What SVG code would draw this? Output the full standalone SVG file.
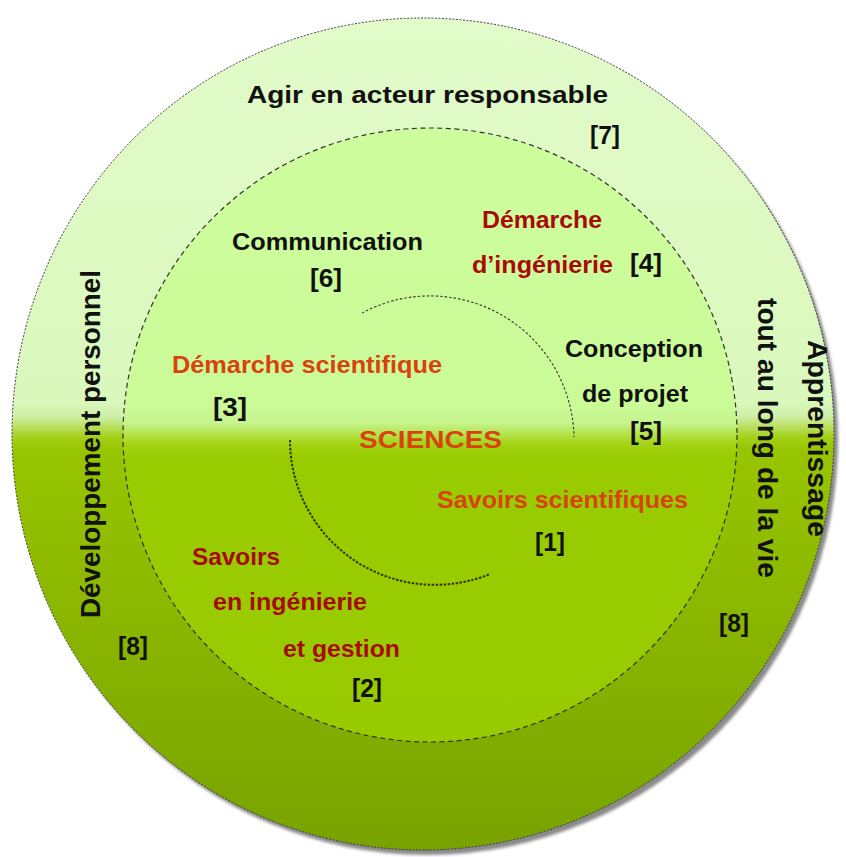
<svg xmlns="http://www.w3.org/2000/svg" width="846" height="857" viewBox="0 0 846 857">
  <defs>
    <linearGradient id="gOuter" gradientUnits="userSpaceOnUse" x1="0" y1="18" x2="0" y2="850">
      <stop offset="0" stop-color="#e2fbca"/>
      <stop offset="0.46" stop-color="#daf8bc"/>
      <stop offset="0.478" stop-color="#d0f0aa"/>
      <stop offset="0.505" stop-color="#a2cf14"/>
      <stop offset="0.52" stop-color="#97c500"/>
      <stop offset="1" stop-color="#78a200"/>
    </linearGradient>
    <linearGradient id="gInner" gradientUnits="userSpaceOnUse" x1="0" y1="128" x2="0" y2="742">
      <stop offset="0" stop-color="#cefd9e"/>
      <stop offset="0.455" stop-color="#cafb97"/>
      <stop offset="0.48" stop-color="#c6f48e"/>
      <stop offset="0.515" stop-color="#a4d414"/>
      <stop offset="0.535" stop-color="#99cc00"/>
      <stop offset="1" stop-color="#98ca00"/>
    </linearGradient>
    <filter id="blur" x="-5%" y="-5%" width="110%" height="110%">
      <feGaussianBlur stdDeviation="1.5"/>
    </filter>
  </defs>
  <style>
    text { font-family: "Liberation Sans", Arial, sans-serif; font-weight: bold; }
    .k { fill: #111111; font-size: 24px; }
    .b { fill: #111111; font-size: 25px; }
    .dr { fill: #a80a0a; font-size: 24px; }
    .or { fill: #d9420f; font-size: 24px; }
    .ring { fill: #111111; font-size: 28px; }
  </style>

  <g id="background">
    <ellipse cx="427" cy="439" rx="411" ry="416" fill="#8a8a8a" filter="url(#blur)"/>
    <ellipse id="outer-ring" cx="423" cy="434" rx="411" ry="416" fill="url(#gOuter)" stroke="#3a3a3a" stroke-width="1" stroke-dasharray="2 1.5"/>
    <circle id="inner-circle" cx="430" cy="435" r="307" fill="url(#gInner)" stroke="#333333" stroke-width="1.2" stroke-dasharray="5 3.5"/>
  </g>

  <g id="connectors" fill="none">
    <path d="M 362 313 A 144 144 0 0 1 574 437" stroke="#333333" stroke-width="1.1" stroke-dasharray="2.5 2"/>
    <path d="M 290 440 A 145 145 0 0 0 490 574" stroke="#2e3a00" stroke-width="2" stroke-dasharray="2.5 1.5"/>
  </g>

  <g id="node-7">
    <text class="k" x="247" y="103" textLength="361" lengthAdjust="spacingAndGlyphs">Agir en acteur responsable</text>
    <text class="b" x="590" y="144" textLength="30" lengthAdjust="spacingAndGlyphs">[7]</text>
  </g>

  <g id="node-8-left">
    <text class="ring" transform="translate(100,444) rotate(-90)" text-anchor="middle" textLength="348" lengthAdjust="spacingAndGlyphs">Développement personnel</text>
    <text class="b" x="118" y="655" textLength="30" lengthAdjust="spacingAndGlyphs">[8]</text>
  </g>

  <g id="node-8-right">
    <text class="ring" transform="translate(758,438) rotate(90)" text-anchor="middle" textLength="280" lengthAdjust="spacingAndGlyphs">tout au long de la vie</text>
    <text class="ring" transform="translate(808,438.5) rotate(90)" text-anchor="middle" textLength="197" lengthAdjust="spacingAndGlyphs">Apprentissage</text>
    <text class="b" x="719" y="632" textLength="30" lengthAdjust="spacingAndGlyphs">[8]</text>
  </g>

  <g id="node-6">
    <text class="k" x="232" y="250" textLength="191" lengthAdjust="spacingAndGlyphs">Communication</text>
    <text class="b" x="310" y="287" textLength="32" lengthAdjust="spacingAndGlyphs">[6]</text>
  </g>

  <g id="node-4">
    <text class="dr" x="482" y="228" textLength="120" lengthAdjust="spacingAndGlyphs">Démarche</text>
    <text class="dr" x="472" y="273" textLength="141" lengthAdjust="spacingAndGlyphs">d’ingénierie</text>
    <text class="b" x="630" y="272" textLength="32" lengthAdjust="spacingAndGlyphs">[4]</text>
  </g>

  <g id="node-5">
    <text class="k" x="565" y="357" textLength="138" lengthAdjust="spacingAndGlyphs">Conception</text>
    <text class="k" x="582" y="402" textLength="106" lengthAdjust="spacingAndGlyphs">de projet</text>
    <text class="b" x="630" y="440" textLength="32" lengthAdjust="spacingAndGlyphs">[5]</text>
  </g>

  <g id="node-3">
    <text class="or" x="172" y="373" textLength="270" lengthAdjust="spacingAndGlyphs">Démarche scientifique</text>
    <text class="b" x="213" y="416" textLength="34" lengthAdjust="spacingAndGlyphs">[3]</text>
  </g>

  <g id="node-sciences">
    <text class="or" x="359" y="448" font-size="27" textLength="143" lengthAdjust="spacingAndGlyphs">SCIENCES</text>
  </g>

  <g id="node-1">
    <text class="or" x="437" y="508" textLength="251" lengthAdjust="spacingAndGlyphs">Savoirs scientifiques</text>
    <text class="b" x="535" y="551" textLength="30" lengthAdjust="spacingAndGlyphs">[1]</text>
  </g>

  <g id="node-2">
    <text class="dr" x="192" y="565" textLength="88" lengthAdjust="spacingAndGlyphs">Savoirs</text>
    <text class="dr" x="213" y="610" textLength="154" lengthAdjust="spacingAndGlyphs">en ingénierie</text>
    <text class="dr" x="283" y="657" textLength="117" lengthAdjust="spacingAndGlyphs">et gestion</text>
    <text class="b" x="352" y="697" textLength="30" lengthAdjust="spacingAndGlyphs">[2]</text>
  </g>
</svg>
